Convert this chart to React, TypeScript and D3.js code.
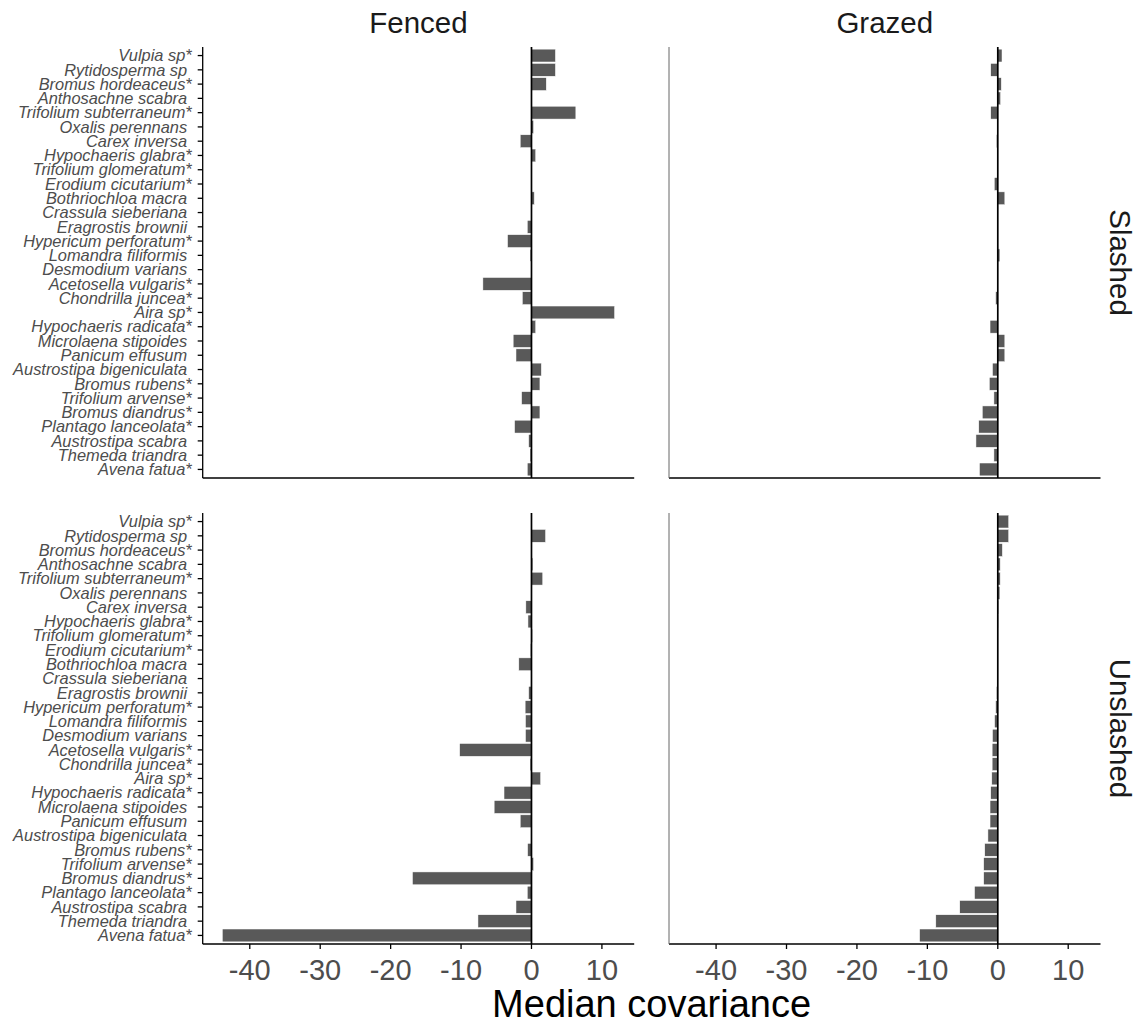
import React, { useEffect } from 'react';
import * as d3 from 'd3';

// species order, top to bottom
const species = [
  'Vulpia sp*', 'Rytidosperma sp ', 'Bromus hordeaceus*', 'Anthosachne scabra ',
  'Trifolium subterraneum*', 'Oxalis perennans ', 'Carex inversa ', 'Hypochaeris glabra*',
  'Trifolium glomeratum*', 'Erodium cicutarium*', 'Bothriochloa macra ', 'Crassula sieberiana ',
  'Eragrostis brownii ', 'Hypericum perforatum*', 'Lomandra filiformis ', 'Desmodium varians ',
  'Acetosella vulgaris*', 'Chondrilla juncea*', 'Aira sp*', 'Hypochaeris radicata*',
  'Microlaena stipoides ', 'Panicum effusum ', 'Austrostipa bigeniculata ', 'Bromus rubens*',
  'Trifolium arvense*', 'Bromus diandrus*', 'Plantago lanceolata*', 'Austrostipa scabra ',
  'Themeda triandra ', 'Avena fatua*',
];

const slashedFenced = [
  3.4, 3.4, 2.1, 0.05, 6.3, 0.3, -1.6, 0.6, 0, -0.05,
  0.4, 0, -0.6, -3.4, -0.2, 0, -6.9, -1.3, 11.8, 0.6,
  -2.6, -2.2, 1.4, 1.2, -1.4, 1.2, -2.4, -0.4, -0.2, -0.6,
];
const slashedGrazed = [
  0.6, -1.0, 0.5, 0.4, -1.0, 0, -0.2, -0.1, 0, -0.5,
  1.0, 0, 0, 0, 0.3, 0, -0.05, -0.3, 0, -1.1,
  1.0, 1.0, -0.75, -1.2, -0.55, -2.2, -2.7, -3.1, -0.55, -2.6,
];
const unslashedFenced = [
  0, 2.0, 0, 0.2, 1.6, 0, -0.8, -0.5, 0.15, -0.15,
  -1.8, 0, -0.4, -0.9, -0.85, -0.85, -10.2, -0.2, 1.3, -3.9,
  -5.3, -1.6, 0, -0.55, 0.3, -16.9, -0.6, -2.2, -7.6, -43.9,
];
const unslashedGrazed = [
  1.55, 1.55, 0.65, 0.35, 0.35, 0.3, 0.1, 0.05, 0, 0,
  0, 0, -0.2, -0.3, -0.45, -0.75, -0.8, -0.8, -0.85, -1.0,
  -1.1, -1.1, -1.4, -1.85, -2.0, -2.0, -3.3, -5.4, -8.8, -11.1,
];

const columns = ['Fenced', 'Grazed'];
const rows = ['Slashed', 'Unslashed'];
const xTicks = [-40, -30, -20, -10, 0, 10];

const W = 1145, H = 1027;
const panelW = 431.5, panelH = 431;
const colX = [202.7, 669];
const rowY = [47, 513];

const grid = [[slashedFenced, slashedGrazed], [unslashedFenced, unslashedGrazed]];

export default function App() {
  useEffect(() => { document.body.style.margin = '0'; }, []);

  const all = [...slashedFenced, ...slashedGrazed, ...unslashedFenced, ...unslashedGrazed];
  const [lo, hi] = d3.extent(all) as [number, number];
  const pad = (hi - lo) * 0.05;
  const x = d3.scaleLinear().domain([lo - pad, hi + pad]).range([0, panelW]);
  const y = d3.scaleBand().domain(species).range([0, panelH]).paddingInner(0.1).paddingOuter(0.15);
  const font = 'Liberation Sans, Arial, sans-serif';

  return (
    <svg width={W} height={H} style={{ display: 'block', fontFamily: font }}>
      <rect width={W} height={H} fill="#fff" />
      {columns.map((c, ci) => (
        <text key={c} x={colX[ci] + panelW / 2} y={33} textAnchor="middle" fontSize={29.5} fill="#1a1a1a">{c}</text>
      ))}
      {rows.map((r, ri) => (
        <text key={r} transform={`translate(${1110},${rowY[ri] + panelH / 2}) rotate(90)`} textAnchor="middle" fontSize={29.5} fill="#1a1a1a">{r}</text>
      ))}
      {grid.map((rowData, ri) => rowData.map((vals, ci) => (
        <g key={`${ri}-${ci}`} transform={`translate(${colX[ci]},${rowY[ri]})`}>
          {vals.map((v, i) => (
            <rect key={i} x={x(Math.min(0, v))} y={y(species[i])} width={Math.abs(x(v) - x(0))} height={y.bandwidth()}
              fill="#595959" stroke="#fff" strokeWidth={0.5} />
          ))}
          <line x1={x(0)} x2={x(0)} y1={0} y2={panelH} stroke="#000" strokeWidth={1.7} />
          {/* axes */}
          <line x1={0} x2={panelW} y1={panelH} y2={panelH} stroke="#000" strokeWidth={1.3} />
          <line x1={0} x2={0} y1={0} y2={panelH} stroke={ci === 0 ? '#000' : '#666'} strokeWidth={ci === 0 ? 1.3 : 1} />
          {ci === 0 && species.map(s => {
            const cy = (y(s) as number) + y.bandwidth() / 2;
            return (
              <g key={s}>
                <line x1={-5} x2={0} y1={cy} y2={cy} stroke="#000" strokeWidth={1.3} />
                <text x={-11} y={cy} dy="0.35em" textAnchor="end" fontSize={16.4} fontStyle="italic" fill="#4d4d4d"
                  style={{ whiteSpace: 'pre' }}>{s}</text>
              </g>
            );
          })}
          {ri === 1 && xTicks.map(t => (
            <g key={t}>
              <line x1={x(t)} x2={x(t)} y1={panelH} y2={panelH + 5} stroke="#000" strokeWidth={1.3} />
              <text x={x(t)} y={panelH + 36} textAnchor="middle" fontSize={29} fill="#4d4d4d">{t}</text>
            </g>
          ))}
        </g>
      )))}
      <text x={(colX[0] + colX[1] + panelW) / 2} y={1017} textAnchor="middle" fontSize={38} fill="#000">Median covariance</text>
    </svg>
  );
}
